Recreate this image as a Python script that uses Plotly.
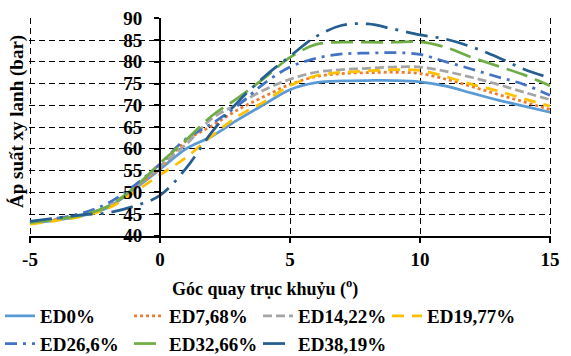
import plotly.graph_objects as go

crank_angle = [-5, -4, -3, -2, -1, 0, 1, 2, 3, 4, 5, 6, 7, 8, 9, 10, 11, 12, 13, 14, 15]

ed0 = [42.8, 43.6, 44.6, 46.5, 50.7, 55.3, 60.0, 62.9, 66.7, 70.2, 73.6, 75.2, 75.6, 75.7, 75.7, 75.4, 74.4, 72.8, 71.2, 69.8, 68.4]
ed7_68 = [43.0, 43.8, 44.8, 46.7, 51.0, 55.5, 61.8, 65.3, 69.0, 72.0, 74.8, 76.6, 77.3, 77.5, 77.6, 77.3, 76.0, 74.3, 72.5, 70.8, 69.0]
ed14_22 = [43.0, 43.8, 44.8, 46.8, 51.0, 56.0, 61.0, 67.0, 70.3, 73.5, 76.0, 77.6, 78.2, 78.5, 78.8, 78.8, 77.8, 76.4, 74.8, 73.0, 71.3]
ed19_77 = [42.7, 43.5, 44.5, 46.3, 50.0, 54.0, 58.0, 63.0, 67.5, 70.8, 74.5, 76.8, 77.6, 77.9, 78.2, 78.0, 76.6, 74.8, 73.3, 71.5, 69.8]
ed26_6 = [43.2, 44.0, 45.2, 47.5, 51.5, 56.5, 62.3, 65.8, 70.0, 75.0, 78.8, 80.8, 81.8, 82.0, 82.1, 81.7, 80.0, 78.3, 76.5, 74.8, 72.3]
ed32_66 = [43.0, 43.8, 44.8, 46.8, 51.0, 56.7, 62.0, 67.6, 71.7, 76.2, 81.0, 84.0, 84.5, 84.5, 84.5, 84.6, 83.3, 81.0, 79.0, 77.0, 74.5]
ed38_19 = [43.3, 44.1, 44.8, 45.3, 46.8, 49.3, 55.5, 63.9, 70.8, 76.5, 81.3, 85.8, 88.4, 88.7, 87.5, 86.2, 85.2, 83.4, 81.0, 78.3, 76.3]

series_names = ["ED0%", "ED7,68%", "ED14,22%", "ED19,77%", "ED26,6%", "ED32,66%", "ED38,19%"]
series_values = [ed0, ed7_68, ed14_22, ed19_77, ed26_6, ed32_66, ed38_19]
series_colors = ["#5B9BD5", "#ED7D31", "#A5A5A5", "#FFC000", "#4472C4", "#70AD47", "#255E91"]
series_dash = ["solid", "3px,3px", "9px,4px", "12px,8px", "12px,6px,3px,6px", "22px,8px", "22px,8px,3px,8px"]

x_ticks = [-5, 0, 5, 10, 15]
y_ticks = [40, 45, 50, 55, 60, 65, 70, 75, 80, 85, 90]

FONT = "Liberation Serif"
W, H = 571, 356

fig = go.Figure()
for name, vals, col, dash in zip(series_names, series_values, series_colors, series_dash):
    fig.add_trace(go.Scatter(
        x=crank_angle, y=vals, name=name, mode="lines",
        line=dict(color=col, width=2.75, dash=dash, shape="spline", smoothing=1.0),
    ))

fig.update_layout(
    width=W, height=H,
    margin=dict(l=0, r=0, t=0, b=0, autoexpand=False),
    paper_bgcolor="white", plot_bgcolor="white",
    font=dict(family=FONT, size=18, color="black", weight="bold"),
    showlegend=True,
    legend=dict(
        orientation="h", x=0, xanchor="left", y=1 - 297 / H, yanchor="top",
        font=dict(family=FONT, size=19, color="black", weight="bold"),
        entrywidth=84, entrywidthmode="pixels",
        tracegroupgap=0, itemwidth=30, bgcolor="rgba(0,0,0,0)",
    ),
    xaxis=dict(
        domain=[28.7 / W, 551.3 / W],
        range=[-5.05, 15.05], tickvals=x_ticks, ticktext=[str(v) for v in x_ticks],
        showgrid=True, gridcolor="black", gridwidth=1.2, griddash="6px,4px",
        zeroline=False, showline=True, linecolor="black", linewidth=2,
        ticks="outside", ticklen=5, tickwidth=1.5, tickcolor="black", ticklabelstandoff=0,
        tickfont=dict(family=FONT, size=19, color="black", weight="bold"),
    ),
    yaxis=dict(
        domain=[1 - 235.8 / H, 1 - 18.1 / H],
        range=[40, 90.05], tickvals=y_ticks, ticktext=[str(v) for v in y_ticks],
        showgrid=True, gridcolor="black", gridwidth=1.2, griddash="6px,4px",
        zeroline=False, showline=True, linecolor="black", linewidth=2,
        anchor="free", position=160 / W,
        ticks="outside", ticklen=5, tickwidth=1.5, tickcolor="black", ticklabelstandoff=8,
        tickfont=dict(family=FONT, size=19, color="black", weight="bold"),
    ),
    annotations=[
        dict(text="Góc quay trục khuỷu (<sup>o</sup>)", xref="paper", yref="paper",
             x=265 / W, y=1 - 288 / H, xanchor="center", yanchor="middle", showarrow=False,
             font=dict(family=FONT, size=18, color="black", weight="bold")),
        dict(text="Áp suất xy lanh (bar)", xref="paper", yref="paper",
             x=17 / W, y=1 - 122 / H, xanchor="center", yanchor="middle", showarrow=False,
             textangle=-90,
             font=dict(family=FONT, size=19, color="black", weight="bold")),
    ],
)

fig.write_html("out.html", config={"displayModeBar": False},
               post_script="document.body.style.margin='0px';")
